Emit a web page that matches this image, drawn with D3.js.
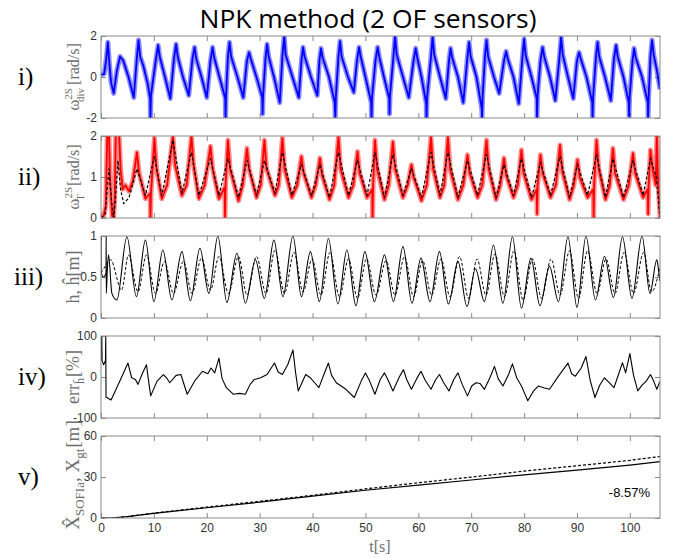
<!DOCTYPE html>
<html>
<head>
<meta charset="utf-8">
<script src="https://cdn.jsdelivr.net/npm/d3@7"></script>
<style>
  body { margin: 0; background: #fff; }
  svg { display: block; }
</style>
</head>
<body>
<svg id="chart" width="673" height="558"></svg>
<script>
// ---- data: [t (s), value] ----
const divMeas = [[0,0.1],[0.6,0.15],[1.0,0.9],[1.3,1.7],[1.6,0.6],[1.9,-0.25],[2.4,-0.8],[3.0,0.3],[3.6,1.0],[4.2,0.8],[5.2,0.0],[6.2,-1.0],
  [6.8,1.0],[7.1,1.8],[7.4,1.0],[8.0,0.55],[8.8,-0.3],[9.3,-1.05],[9.35,-2.0],[9.45,-0.9],
  [10.4,0.9],[10.8,1.55],[11.1,1.0],[12.0,0.1],[13.1,-1.05],
  [13.8,0.9],[14.2,1.6],[14.5,1.0],[15.5,0.0],[16.6,-0.9],
  [17.3,0.9],[17.7,1.45],[18.0,0.9],[19.0,0.0],[20.0,-1.0],
  [20.7,0.8],[21.1,1.45],[21.4,0.95],[22.4,0.0],[23.5,-1.05],[23.55,-2.0],[23.65,-0.9],
  [24.0,1.0],[24.3,1.7],[24.6,1.0],[25.8,0.0],[26.9,-1.0],
  [27.6,0.8],[28.0,1.2],[28.3,0.9],[29.4,0.0],[30.5,-1.0],[30.55,-1.8],[30.65,-0.9],
  [31.1,0.9],[31.4,1.6],[31.7,1.0],[32.8,-0.1],[33.8,-1.25],
  [34.3,1.0],[34.65,2.0],[34.9,1.1],[36.2,0.0],[37.4,-1.0],
  [37.9,0.8],[38.2,1.45],[38.5,1.0],[39.7,0.0],[40.9,-0.9],
  [41.3,0.8],[41.6,1.4],[41.9,0.95],[43.1,0.0],[44.2,-1.25],[44.3,-2.0],[44.4,-1.0],
  [44.9,1.0],[45.2,1.75],[45.5,1.0],[46.7,0.0],[47.8,-0.75],
  [48.4,0.8],[48.8,1.45],[49.1,1.0],[50.0,0.0],[51.1,-1.25],[51.15,-2.0],[51.25,-1.0],
  [51.9,0.8],[52.3,1.45],[52.6,1.0],[53.5,0.0],[54.5,-1.05],[54.55,-1.8],[54.65,-0.9],
  [55.3,1.0],[55.6,2.0],[55.9,1.1],[57.1,0.0],[58.2,-1.0],
  [59.1,0.8],[59.5,1.4],[59.8,0.95],[60.6,0.0],[61.5,-1.3],[61.55,-2.0],[61.65,-1.0],
  [62.4,1.0],[62.7,1.95],[63.0,1.1],[64.1,0.0],[65.2,-1.05],
  [65.8,0.8],[66.1,1.4],[66.4,0.95],[67.5,0.0],[68.5,-1.25],
  [69.3,1.0],[69.6,1.7],[69.9,1.0],[71.0,0.0],[72.0,-1.55],[72.05,-2.0],[72.15,-1.0],
  [72.6,1.0],[72.9,1.8],[73.2,1.0],[74.3,0.0],[75.3,-0.8],
  [76.2,0.8],[76.6,1.25],[76.9,0.9],[78.0,0.0],[79.0,-1.3],
  [79.7,1.0],[80.0,1.85],[80.3,1.05],[81.4,0.0],[82.4,-1.05],[82.45,-2.0],[82.55,-0.9],
  [83.1,0.8],[83.5,1.45],[83.8,1.0],[84.9,0.0],[85.9,-1.15],
  [86.7,1.0],[87.0,1.95],[87.3,1.1],[88.3,0.0],[89.3,-1.05],
  [90.0,0.8],[90.4,1.2],[90.7,0.9],[91.8,0.0],[92.9,-1.25],[92.95,-2.0],[93.05,-1.0],
  [93.6,1.0],[93.9,1.7],[94.2,1.0],[95.3,0.0],[96.4,-1.15],
  [97.0,0.9],[97.4,1.55],[97.7,1.0],[98.8,0.0],[99.8,-1.25],[99.85,-1.9],[99.95,-1.0],
  [100.5,0.8],[100.8,1.4],[101.1,0.95],[102.3,0.0],[103.4,-1.25],[103.45,-2.0],[103.55,-1.0],
  [103.9,1.0],[104.2,1.8],[104.5,1.1],[105.2,0.2],[105.7,-0.6]];

const ttcMeas = [[0,0.0],[0.5,0.05],[0.9,0.3],[1.2,2.1],[1.5,2.1],[1.7,1.0],[2.1,0.05],[2.4,0.0],[2.6,0.5],[2.8,2.1],[3.4,2.1],[3.7,1.2],[4.1,0.7],[4.6,0.8],[5.3,0.65],[6.0,0.9],
  [6.8,1.6],[7.2,1.1],[8.4,0.47],[9.3,0.6],[9.35,0.0],[9.45,0.6],[10.1,1.95],[10.5,1.2],[11.5,0.47],[12.5,0.8],
  [13.6,2.0],[14.0,1.3],[15.3,0.55],[16.2,0.8],[17.1,2.0],[17.5,1.3],[18.5,0.47],[19.6,0.8],[20.7,1.75],[21.1,1.2],
  [22.3,0.47],[23.4,0.75],[23.45,0.0],[23.55,0.8],[24.0,1.9],[24.4,1.2],[26.0,0.42],[26.8,0.8],[27.6,1.7],[28.0,1.2],
  [29.4,0.5],[30.2,0.8],[30.9,1.9],[31.3,1.2],[32.9,0.55],[33.6,0.8],[34.3,1.95],[34.7,1.2],[36.1,0.5],[37.1,0.8],
  [37.9,1.5],[38.3,1.1],[39.8,0.5],[40.6,0.8],[41.4,1.46],[41.8,1.05],[43.2,0.45],[44.1,0.8],[44.9,1.98],[45.3,1.2],
  [46.8,0.5],[47.7,0.8],[48.5,1.62],[48.9,1.1],[50.3,0.5],[51.3,0.7],[51.35,0.0],[51.45,0.8],[51.8,1.9],[52.2,1.2],
  [53.6,0.45],[54.4,0.8],[55.2,1.86],[55.6,1.2],[57.1,0.5],[58.0,0.8],[58.7,1.3],[59.1,1.0],[60.6,0.42],[61.6,0.8],
  [62.4,1.98],[62.8,1.2],[64.1,0.5],[64.9,0.8],[65.6,1.98],[66.0,1.2],[67.5,0.45],[68.5,0.8],[69.3,1.54],[69.7,1.1],
  [71.2,0.5],[72.1,0.8],[72.9,1.9],[73.3,1.2],[74.7,0.45],[75.5,0.8],[76.2,1.46],[76.6,1.05],[78.0,0.5],[78.8,0.8],
  [79.5,1.66],[79.9,1.1],[81.4,0.45],[82.4,0.7],[82.45,0.1],[82.55,0.8],[83.1,1.54],[83.5,1.1],[85.0,0.5],[86.0,0.8],
  [86.8,1.78],[87.2,1.15],[88.6,0.45],[89.4,0.8],[90.1,1.42],[90.5,1.0],[92.0,0.5],[93.1,0.7],[93.15,0.0],[93.25,0.8],
  [93.7,1.9],[94.1,1.2],[95.4,0.45],[96.2,0.8],[96.8,1.7],[97.2,1.1],[98.8,0.45],[99.8,0.8],[100.6,1.58],[101.0,1.1],
  [102.5,0.5],[103.4,0.7],[103.45,0.1],[103.55,0.8],[103.9,1.66],[104.3,1.2],[104.9,0.8],[105.1,2.1],[105.3,1.0],[105.7,0.0]];

const ttcTrue = [[0,0],[0.8,0.1],[1.5,1.2],[2.0,0.4],[2.4,0.0],[2.7,0.4],[3.2,1.4],[3.7,0.7],[4.3,0.35],[5.3,0.5],[6.8,1.2],[8.4,0.55],
  [10.1,1.5],[11.5,0.55],[13.6,1.9],[15.3,0.6],[17.1,1.6],[18.5,0.55],[20.7,1.45],[22.3,0.55],[24.0,1.45],[26.0,0.5],
  [27.6,1.4],[29.4,0.55],[30.9,1.4],[32.9,0.6],[34.3,1.6],[36.1,0.55],[37.9,1.3],[39.8,0.55],[41.4,1.3],[43.2,0.5],
  [44.9,1.6],[46.8,0.55],[48.5,1.4],[50.3,0.55],[51.8,1.6],[53.6,0.5],[55.2,1.55],[57.1,0.55],[58.7,1.2],[60.6,0.5],
  [62.4,1.6],[64.1,0.55],[65.6,1.6],[67.5,0.5],[69.3,1.4],[71.2,0.55],[72.9,1.55],[74.7,0.5],[76.2,1.3],[78.0,0.55],
  [79.5,1.45],[81.4,0.5],[83.1,1.35],[85.0,0.55],[86.8,1.5],[88.6,0.5],[90.1,1.3],[92.0,0.55],[93.7,1.55],[95.4,0.5],
  [96.8,1.45],[98.8,0.5],[100.6,1.4],[102.5,0.55],[103.9,1.45],[105.0,1.0],[105.7,0.0]];

const hTrue = [[0,1.0],[0.04,0.55],[0.5,0.5],[0.95,0.55],[0.98,1.0],[1.0,0.3],[1.2,0.6],[1.43,0.77],[2.06,0.3],[3.0,0.22],
  [4.9,0.99],[6.7,0.26],[8.4,0.95],[10.0,0.2],[11.7,0.83],[13.4,0.22],[15.3,0.81],[16.9,0.21],[18.7,0.85],[20.4,0.3],
  [22.1,1.0],[23.8,0.19],[25.7,0.79],[27.3,0.18],[29.2,0.71],[30.9,0.24],[32.7,0.95],[34.4,0.26],[36.3,1.0],[37.9,0.26],
  [39.6,0.81],[41.3,0.2],[43.0,0.97],[44.8,0.17],[46.5,0.83],[48.2,0.15],[49.9,0.81],[51.7,0.2],[53.6,0.77],[55.3,0.2],
  [57.1,0.87],[58.8,0.18],[60.5,0.73],[62.2,0.2],[64.0,0.81],[65.7,0.17],[67.5,0.69],[69.2,0.14],[70.8,0.6],[72.5,0.2],
  [74.2,0.89],[76.0,0.18],[77.8,0.99],[79.5,0.12],[81.3,0.73],[83.0,0.15],[84.8,0.63],[86.5,0.2],[88.3,0.99],[90.0,0.13],
  [91.7,1.0],[93.5,0.22],[95.2,0.75],[96.9,0.25],[98.6,0.99],[100.4,0.24],[102.3,1.0],[103.8,0.3],[105.1,0.71],[105.4,0.6],[105.7,0.45]];

const hEst = [[0,0.55],[0.5,0.6],[1.8,0.71],[3.9,0.34],[5.2,0.77],[7.0,0.32],[8.6,0.77],[10.3,0.3],[12.0,0.69],[13.7,0.3],
  [15.6,0.69],[17.2,0.3],[19.0,0.73],[20.7,0.34],[22.3,0.75],[24.1,0.3],[26.0,0.75],[27.6,0.28],[29.4,0.75],[31.2,0.3],
  [32.9,0.83],[34.7,0.3],[36.5,0.8],[38.2,0.32],[39.9,0.72],[41.6,0.28],[43.3,0.8],[45.1,0.26],[46.8,0.72],[48.5,0.24],
  [50.2,0.72],[52.0,0.28],[53.9,0.7],[55.6,0.28],[57.4,0.75],[59.1,0.26],[60.8,0.7],[62.5,0.28],[64.3,0.72],[66.0,0.26],
  [67.8,0.75],[69.5,0.24],[71.1,0.72],[72.8,0.28],[74.5,0.78],[76.3,0.26],[78.1,0.82],[79.8,0.22],[81.6,0.72],[83.3,0.24],
  [85.1,0.72],[86.8,0.28],[88.6,0.82],[90.3,0.24],[92.0,0.82],[93.8,0.3],[95.5,0.72],[97.2,0.3],[98.9,0.8],[100.7,0.3],
  [102.6,0.8],[104.1,0.32],[105.7,0.62]];

const errH = [[0,40],[0.05,100],[0.15,100],[0.2,40],[0.5,30],[0.85,40],[0.9,100],[0.95,-50],[1.1,-50],[1.9,-56],[3.2,-20],[4.4,14],[5.1,34],
  [5.8,-2],[6.2,-4],[6.5,-6],[7.0,-18],[7.8,8],[8.6,30],[9.0,-10],[9.4,-46],[10.6,-10],[11.8,6],[12.4,-2],[13.0,-14],[14.2,4],[15.1,6],[16.3,-42],
  [17.8,-8],[19.2,14],[20.2,8],[20.8,22],[21.5,10],[22.3,46],[22.9,-4],[23.7,-26],[25.0,-42],[26.2,-40],[27.3,-42],[28.2,-18],[29.0,-6],[30.2,-2],[31.4,6],[32.8,34],[33.5,12],[34.3,6],[35.3,30],[36.3,66],[36.8,10],[37.3,-34],[38.7,6],[39.6,-2],[40.4,-14],[41.2,-26],
  [42.2,8],[43.0,34],[43.6,4],[44.5,-14],[46.3,-30],[47.9,-50],[49.2,-10],[50.0,10],[50.8,-10],[51.8,-42],[52.8,-6],[53.6,10],[54.3,-8],[55.2,-34],[56.4,0],[57.2,18],[57.8,-6],[58.7,-30],[59.7,-4],[60.5,14],[61.3,-8],[62.4,-30],
  [63.3,-6],[64.0,6],[64.8,-14],[65.8,-34],[66.7,-6],[67.5,10],[68.3,-18],[69.3,-46],[70.1,-22],[70.9,-14],[71.7,-16],[72.5,-30],[73.6,0],[74.4,26],[75.1,-4],[76.0,-22],[77.0,4],[77.8,32],[78.6,-2],[79.5,-22],[80.1,-40],[80.7,-58],
  [81.8,-34],[82.7,-22],[83.7,-26],[84.8,-30],[86.6,4],[88.3,34],[89.0,8],[89.7,2],[90.8,22],[91.7,50],[92.5,-8],[93.4,-50],[94.3,-20],[95.2,-2],[96.1,-14],[97.0,-26],[97.9,8],[98.6,35],[99.2,10],[100.0,57],[100.7,4],
  [101.5,-34],[102.3,-20],[103.1,-10],[103.9,6],[104.5,-10],[105.1,-30],[105.7,-10]];

const distT = [0, 2, 5, 10, 20, 30, 40, 50, 60, 70, 80, 90, 100, 105.7];
const distEst = [0, 0, 1.0, 3.4, 7.5, 11.6, 16.0, 20.3, 24.0, 27.8, 31.6, 35.0, 38.7, 41.3];
const distGt = [0, 0, 1.1, 3.6, 8.0, 12.2, 16.6, 21.3, 25.8, 29.9, 34.3, 38.2, 42.2, 45.0];
const finalErr = "-8.57%";

const xTicks = [0, 10, 20, 30, 40, 50, 60, 70, 80, 90, 100];
const yTicks = [[-2, 0, 2], [0, 1, 2], [0, 0.5, 1], [-100, 0, 100], [0, 30, 60]];
const yDomains = [[-2, 2], [0, 2], [0, 1], [-100, 100], [0, 60]];
const rowNames = ["i)", "ii)", "iii)", "iv)", "v)"];

// ---- layout ----
const svg = d3.select("#chart");
const left = 101, right = 660, ph = 82;
const tops = [36, 136, 236, 336, 436];

const x = d3.scaleLinear().domain([0, 105.7]).range([left, right]);

svg.append("text")
    .attr("x", 368).attr("y", 28)
    .attr("text-anchor", "middle")
    .attr("textLength", 337).attr("lengthAdjust", "spacingAndGlyphs")
    .style("font-family", "Open Sans, sans-serif")
    .style("font-size", "25px")
    .text("NPK method (2 OF sensors)");

const ys = tops.map((t, i) => d3.scaleLinear().domain(yDomains[i]).range([t + ph, t]));
const plain = d => String(d);

tops.forEach((top, i) => {
    svg.append("clipPath").attr("id", "clip" + i)
      .append("rect").attr("x", left).attr("y", top).attr("width", right - left).attr("height", ph);

    svg.append("g")
        .attr("transform", `translate(0,${top + ph})`)
        .call(d3.axisBottom(x).tickValues(xTicks).tickSize(-5).tickSizeOuter(0).tickPadding(5)
            .tickFormat(i === 4 ? plain : () => ""));
    svg.append("g")
        .attr("transform", `translate(0,${top})`)
        .call(d3.axisTop(x).tickValues(xTicks).tickSize(-5).tickSizeOuter(0).tickFormat(() => ""));
    svg.append("g")
        .attr("transform", `translate(${left},0)`)
        .call(d3.axisLeft(ys[i]).tickValues(yTicks[i]).tickSize(-5).tickSizeOuter(0).tickPadding(4).tickFormat(plain));
    svg.append("g")
        .attr("transform", `translate(${right},0)`)
        .call(d3.axisRight(ys[i]).tickValues(yTicks[i]).tickSize(-5).tickSizeOuter(0).tickFormat(() => ""));

    svg.append("text")
        .attr("x", i === 2 ? 14 : 18).attr("y", top + ph / 2 + 8)
        .style("font-family", "Liberation Serif, serif")
        .style("font-size", "25px")
        .text(rowNames[i]);
});

svg.selectAll(".domain").remove();
svg.selectAll(".tick line").attr("stroke", "#8a8a8a");
svg.selectAll(".tick text")
    .style("font-family", "Liberation Sans, Arial, sans-serif")
    .style("font-size", "12px")
    .attr("fill", "#333");

function lineIn(i, curve) {
    return d3.line().x(d => x(d[0])).y(d => ys[i](d[1])).curve(curve || d3.curveLinear);
}
function draw(i, data, color, width, dash, curve, opacity) {
    svg.append("path")
        .datum(data)
        .attr("clip-path", `url(#clip${i})`)
        .attr("fill", "none")
        .attr("stroke", color)
        .attr("stroke-width", width)
        .attr("stroke-opacity", opacity || 1)
        .attr("stroke-linejoin", "round")
        .attr("stroke-dasharray", dash || null)
        .attr("d", lineIn(i, curve));
}

// noisy measurements: a soft wide band plus a core line
draw(0, divMeas, "#0000ff", 5, null, null, 0.45);
draw(0, divMeas, "#0000ff", 1.8);
draw(1, ttcMeas, "#ff0000", 5, null, null, 0.45);
draw(1, ttcMeas, "#ff0000", 1.8);
draw(1, ttcTrue, "#000", 1.2, "3,2");
draw(2, hTrue, "#000", 1.1, null, d3.curveMonotoneX);
draw(2, hEst, "#000", 1, "3,2", d3.curveMonotoneX);
draw(3, errH, "#000", 1.1);
draw(4, distT.map((t, k) => [t, distEst[k]]), "#000", 1.2);
draw(4, distT.map((t, k) => [t, distGt[k]]), "#000", 1.2, "3,2");

// frames
tops.forEach(top => {
    svg.append("rect")
        .attr("x", left).attr("y", top).attr("width", right - left).attr("height", ph)
        .attr("fill", "none").attr("stroke", "#8a8a8a").attr("stroke-width", 1);
});

svg.append("text")
    .attr("x", 650).attr("y", 497)
    .attr("text-anchor", "end")
    .style("font-family", "Liberation Sans, Arial, sans-serif")
    .style("font-size", "13px")
    .text(finalErr);

// y labels (rotated), latex-like: [text, size, dy, dx]
const labels = [
    [["ω", 17, 0, 0], ["2S", 11, -7, 0], ["div", 11, 12, -14], ["[rad/s]", 16, -5, 3]],
    [["ω", 17, 0, 0], ["2S", 11, -7, 0], ["T", 11, 12, -14], ["[rad/s]", 16, -5, 8]],
    [["h, ĥ[m]", 18, 0, 0]],
    [["err", 18, 0, 0], ["ĥ", 12, 5, 0], ["[%]", 18, -5, 1]],
    [["X\u0302", 19, 0, 0], ["SOFIa", 13, 5, 0], [", X", 19, -5, 0], ["gt", 13, 5, 0], ["[m]", 19, -5, 1]]
];
const labelCenters = [77, 177, 277, 377, 475];
labels.forEach((parts, i) => {
    const t = svg.append("text")
        .attr("transform", `translate(79,${labelCenters[i]}) rotate(-90)`)
        .attr("text-anchor", "middle")
        .attr("fill", "#6e6e6e")
        .style("font-family", "Liberation Serif, DejaVu Serif, serif");
    parts.forEach(p => {
        t.append("tspan")
            .style("font-size", p[1] + "px")
            .attr("dy", p[2])
            .attr("dx", p[3])
            .text(p[0]);
    });
});

svg.append("text")
    .attr("x", 380).attr("y", 552)
    .attr("text-anchor", "middle")
    .attr("fill", "#6e6e6e")
    .style("font-family", "Liberation Serif, serif")
    .style("font-size", "16px")
    .text("t[s]");
</script>
</body>
</html>
